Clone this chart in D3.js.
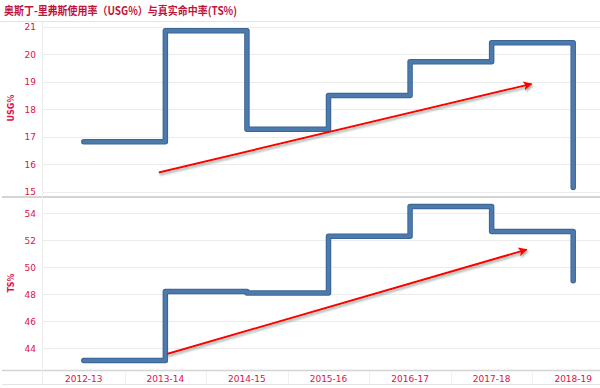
<!DOCTYPE html>
<html><head><meta charset="utf-8">
<script src="https://cdn.jsdelivr.net/npm/d3@7"></script>
<style>body{margin:0;background:#fff;}svg{display:block;}</style>
</head><body><svg id="c" width="600" height="388"></svg>
<script>
const seasons = ["2012-13","2013-14","2014-15","2015-16","2016-17","2017-18","2018-19"];
const usg = [16.82, 20.85, 17.27, 18.5, 19.73, 20.42, 15.15];
const ts = [43.1, 48.2, 48.1, 52.3, 54.5, 52.65, 49.0];
const usgTicks = [15,16,17,18,19,20,21];
const tsTicks = [44,46,48,50,52,54];
// trend arrows: [start index, start value, end index, end value]
const usgArrow = [0.92, 15.7, 5.49, 18.92];
const tsArrow = [1.02, 43.58, 5.43, 51.31];
const title = "奥斯丁-里弗斯使用率（USG%）与真实命中率(TS%)";

const svg = d3.select("#c");
const red = "#e0104a";
const x = d3.scalePoint().domain(seasons).range([43, 614]).padding(0.5);
const xi = i => x(seasons[0]) + i * x.step();
const yTop = d3.scaleLinear().domain([15,21]).range([191.7, 26.7]);
const yBot = d3.scaleLinear().domain([44,54]).range([348.3, 213.3]);

const defs = svg.append("defs");
const f = defs.append("filter").attr("id","sh").attr("x","-10%").attr("y","-50%").attr("width","120%").attr("height","200%");
f.append("feDropShadow").attr("dx",1).attr("dy",2).attr("stdDeviation",1).attr("flood-color","#557766").attr("flood-opacity",0.6);
defs.append("marker").attr("id","ah").attr("viewBox","0 0 10 10").attr("refX",9).attr("refY",5)
  .attr("markerWidth",8).attr("markerHeight",4.5).attr("markerUnits","strokeWidth").attr("orient","auto")
  .append("path").attr("d","M0,0 L10,5 L0,10 L2,5 z").attr("fill","#ff0000");

// title
svg.append("text").attr("x",4).attr("y",15).attr("fill","#c0143c")
  .attr("font-family","'Noto Sans CJK SC'").attr("font-weight","bold").attr("font-size",11)
  .attr("textLength",233).attr("lengthAdjust","spacingAndGlyphs").text(title);

// frame lines
svg.append("line").attr("x1",0).attr("x2",600).attr("y1",21.5).attr("y2",21.5).attr("stroke","#e4e4e4");
svg.append("line").attr("x1",2).attr("x2",600).attr("y1",197).attr("y2",197).attr("stroke","#d4d4d4").attr("stroke-width",2);
svg.append("line").attr("x1",2).attr("x2",600).attr("y1",370.5).attr("y2",370.5).attr("stroke","#d4d4d4").attr("stroke-width",1.5);
svg.append("line").attr("x1",2).attr("x2",600).attr("y1",384.5).attr("y2",384.5).attr("stroke","#e4e4e4");
svg.append("line").attr("x1",42.5).attr("x2",42.5).attr("y1",22).attr("y2",384).attr("stroke","#ececec");

function panel(y, ticks, data, arrow, label, labelY) {
  const g = svg.append("g");
  g.selectAll(".grid").data(ticks).join("line")
    .attr("x1",43).attr("x2",600).attr("y1",d=>Math.round(y(d))+0.5).attr("y2",d=>Math.round(y(d))+0.5)
    .attr("stroke","#ebebeb");
  g.selectAll(".tl").data(ticks).join("text")
    .attr("x",36).attr("y",d=>y(d)+3.5).attr("text-anchor","end")
    .attr("font-family","'DejaVu Sans'").attr("font-size",9).attr("fill",red).text(d=>d);
  g.append("text").attr("transform",`translate(14,${labelY}) rotate(-90)`).attr("text-anchor","middle")
    .attr("font-family","'DejaVu Sans'").attr("font-weight","bold").attr("font-size",8).attr("fill",red).text(label);
  const line = d3.line().x((d,i)=>x(seasons[i])).y(d=>y(d)).curve(d3.curveStepAfter);
  g.append("path").attr("d",line(data)).attr("fill","none").attr("stroke","#3a6594").attr("stroke-width",5.5)
    .attr("stroke-linejoin","round").attr("stroke-linecap","round");
  g.append("path").attr("d",line(data)).attr("fill","none").attr("stroke","#4d7aad").attr("stroke-width",3.5)
    .attr("stroke-linejoin","round").attr("stroke-linecap","round");
  g.append("line").attr("x1",xi(arrow[0])).attr("y1",y(arrow[1])).attr("x2",xi(arrow[2])).attr("y2",y(arrow[3]))
    .attr("stroke","#ff0000").attr("stroke-width",2).attr("marker-end","url(#ah)").attr("filter","url(#sh)");
}
panel(yTop, usgTicks, usg, usgArrow, "USG%", 108);
panel(yBot, tsTicks, ts, tsArrow, "TS%", 283);

// x labels
svg.selectAll(".xl").data(seasons).join("text")
  .attr("x",d=>x(d)).attr("y",382).attr("text-anchor","middle")
  .attr("font-family","'DejaVu Sans'").attr("font-size",9).attr("fill",red).text(d=>d);
svg.selectAll(".xt").data(seasons.slice(1)).join("line")
  .attr("x1",d=>Math.round(x(d)-x.step()/2)+0.5).attr("x2",d=>Math.round(x(d)-x.step()/2)+0.5)
  .attr("y1",371).attr("y2",384).attr("stroke","#f0f0f0");
</script></body></html>
